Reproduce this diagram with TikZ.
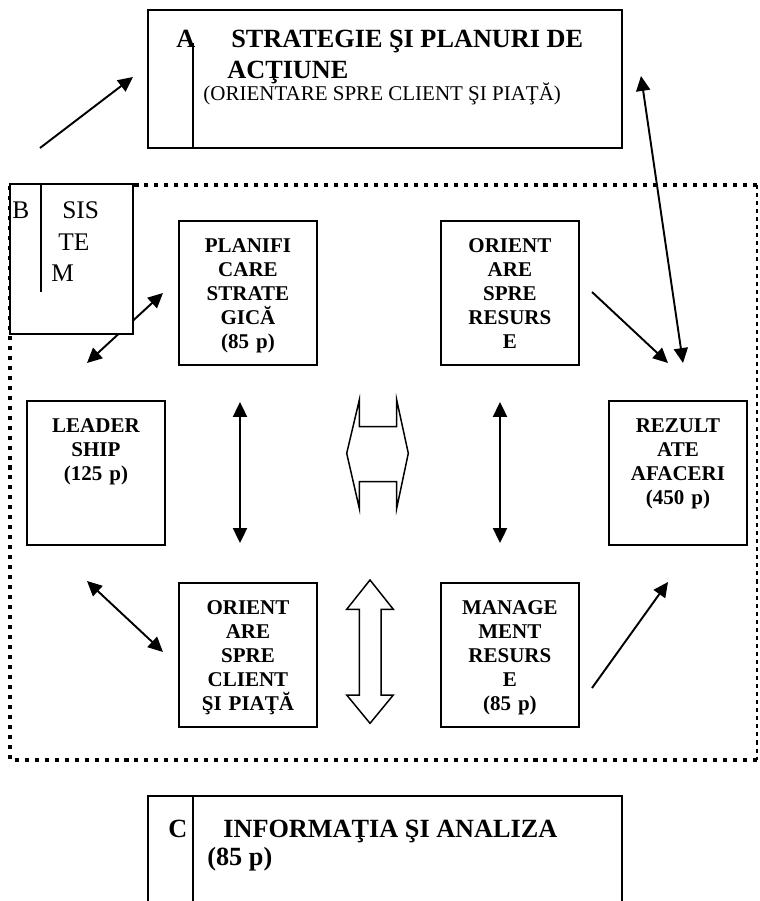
\documentclass[tikz,border=0pt]{standalone}
\usepackage{fontspec}
\setmainfont{Liberation Serif}
\usetikzlibrary{arrows.meta,positioning}

\begin{document}
\begin{tikzpicture}[
    x=0.5714pt, y=-0.5714pt,
    casuta/.style={draw, line width=1.1pt, inner sep=0pt, anchor=north west,
                   text width=78.86pt, align=center,
                   text height=18.29pt, text depth=64pt,
                   font=\bfseries\fontsize{12}{13.71}\selectfont},
    titlu/.style={font=\bfseries\fontsize{15}{18}\selectfont, inner sep=0pt, anchor=base west},
    sistem/.style={font=\fontsize{14.5}{17}\selectfont, inner sep=0pt, anchor=base west},
    cadru/.style={draw, line width=1.1pt, inner sep=0pt},
    despartire/.style={line width=0.85pt},
    sageata/.style={-{Triangle[length=8.5pt,width=8pt]}, line width=1.1pt},
    dubla/.style={{Triangle[length=8.5pt,width=8pt]}-{Triangle[length=8.5pt,width=8pt]}, line width=1.1pt},
    gol/.style={draw, line width=0.85pt, line join=miter},
    puncte/.style={line width=2.3pt, dash pattern=on 2.3pt off 3.4pt},
    linii/.style={line width=0.8pt, dash pattern=on 2.3pt off 2.3pt}
  ]
    \useasboundingbox (0,0) rectangle (759,901);

    % chenarul punctat al sistemului
    \draw[puncte] (757,185) -- (10,185) -- (10,760) -- (757,760);
    \draw[linii] (757,185) -- (757,760);

    % A
    \node[cadru, minimum width=270.86pt, minimum height=78.86pt] (cadruA) at (385,79) {};
    \draw[despartire] (193,43) -- (193,148);
    \node[titlu] (literaA) at (176,48) {A};
    \node[titlu] (strategie) at (231,48) {STRATEGIE ŞI PLANURI DE};
    \node[titlu] (actiune) at (227,79) {ACŢIUNE};
    \node[anchor=base west, inner sep=0pt, font=\fontsize{12}{14}\selectfont] (orientare)
      at (203,101) {(ORIENTARE SPRE CLIENT ŞI PIAŢĂ)};

    % capetele sagetilor
    \coordinate (spreA1) at (40,148);   \coordinate (spreA2) at (133,77);
    \coordinate (dreapta1) at (641,76); \coordinate (dreapta2) at (683,363);
    \coordinate (bp1) at (163,293);     \coordinate (bp2) at (87,363);
    \coordinate (rr1) at (592,292);     \coordinate (rr2) at (668,363);
    \coordinate (vs1) at (240,402);     \coordinate (vs2) at (240,543);
    \coordinate (vd1) at (500,402);     \coordinate (vd2) at (500,543);
    \coordinate (lc1) at (87,581);      \coordinate (lc2) at (163,652);
    \coordinate (mr1) at (592,688);     \coordinate (mr2) at (668,582);

    \draw[sageata] (spreA1) -- (spreA2);
    \draw[dubla] (dreapta1) -- (dreapta2);
    \draw[dubla] (bp1) -- (bp2);
    \draw[sageata] (rr1) -- (rr2);
    \draw[dubla] (vs1) -- (vs2);
    \draw[dubla] (vd1) -- (vd2);
    \draw[dubla] (lc1) -- (lc2);
    \draw[sageata] (mr1) -- (mr2);

    % B
    \node[cadru, fill=white, minimum width=70.29pt, minimum height=85.71pt] (cadruB) at (71.5,259) {};
    \draw[despartire] (41,184) -- (41,292);
    \node[sistem] (literaB) at (12,219) {B};
    \node[sistem] (sis) at (62,219) {SIS};
    \node[sistem] (te) at (58,251) {TE};
    \node[sistem] (m) at (51,282) {M};

    % criteriile
    \node[casuta] (planificare) at (178,220) {PLANIFI\\CARE\\STRATE\\GICĂ\\(85 p)};
    \node[casuta, right=69.71pt of planificare] (resurse) {ORIENT\\ARE\\SPRE\\RESURS\\E};
    \node[casuta] (leadership) at (26,400) {LEADER\\SHIP\\(125 p)};
    \node[casuta] (rezultate) at (608,400) {REZULT\\ATE\\AFACERI\\(450 p)};
    \node[casuta, below=123.43pt of planificare] (client) {ORIENT\\ARE\\SPRE\\CLIENT\\ŞI PIAŢĂ};
    \node[casuta, below=123.43pt of resurse] (management) {MANAGE\\MENT\\RESURS\\E\\(85 p)};

    % sagetile goale din mijloc
    \draw[gol] (359.3,400) -- (359.3,426.7) -- (396.7,426.7) -- (396.7,400) -- (408.3,453.3)
      -- (396.7,508.3) -- (396.7,481.7) -- (359.3,481.7) -- (359.3,508.3) -- (346.7,453.3) -- cycle;
    \draw[gol] (370,580) -- (393.3,609.3) -- (381,609.3) -- (381,695) -- (393.3,695) -- (370,723.3)
      -- (346.7,695) -- (359.3,695) -- (359.3,609.3) -- (346.7,609.3) -- cycle;

    % C
    \draw[line width=1.1pt] (148,901) -- (148,796) -- (622,796) -- (622,901);
    \draw[despartire] (193,796) -- (193,901);
    \node[titlu] (literaC) at (168,837) {C};
    \node[titlu] (informatia) at (223,837) {INFORMAŢIA ŞI ANALIZA};
    \node[titlu] (puncteC) at (207,865) {(85 p)};
  \end{tikzpicture}
\end{document}
